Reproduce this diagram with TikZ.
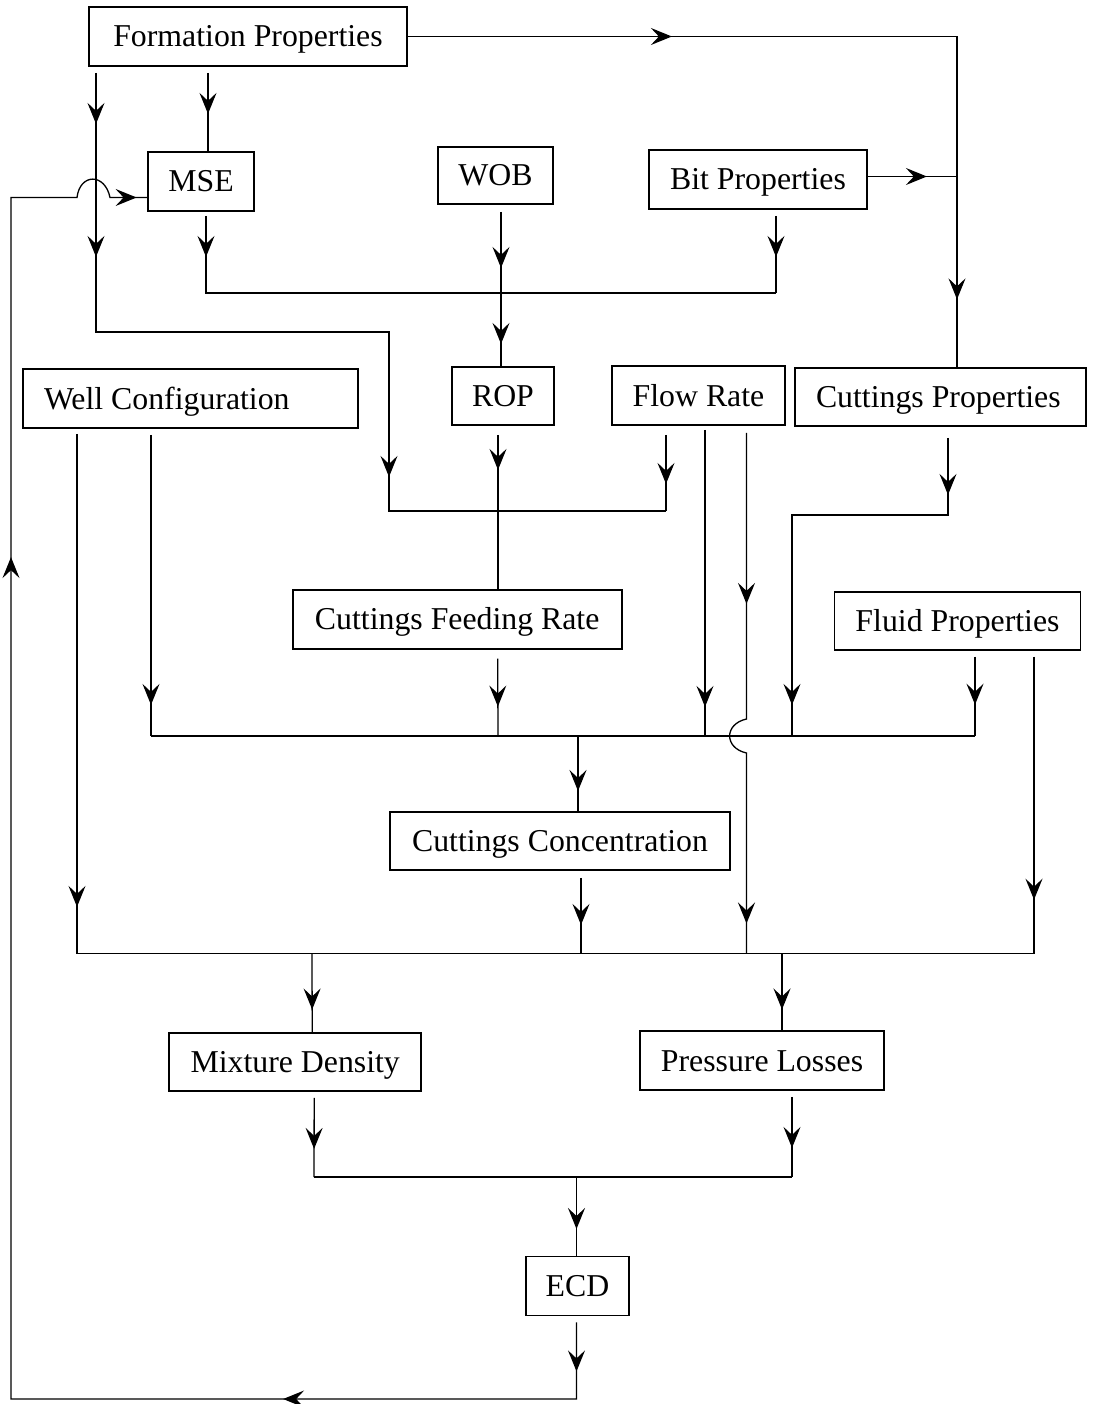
\documentclass[tikz,border=0pt]{standalone}
\usepackage{fontspec}
\setmainfont{Liberation Serif}
\usetikzlibrary{arrows.meta,decorations.markings}
\tikzset{
  box/.style={draw, line width=1.8pt, inner sep=0pt, minimum height=59pt,
    font=\fontsize{31.8}{36}\selectfont, text height=21pt, text depth=0pt},
  conn/.style={line width=1.3pt},
  tiphead/.tip={Stealth[length=21pt,width=17pt,inset=8pt]},
  midtip/.style={postaction={decorate,decoration={markings,
    mark=at position #1 with {\arrow{tiphead}}}}},
}
\begin{document}
\begin{tikzpicture}[x=1pt,y=-1pt]
\useasboundingbox (0,0) rectangle (1102,1404);

% ---------- boxes ----------
\node[box, minimum width=318pt] (form)  at (248,36.5)   {Formation Properties};
\node[box, minimum width=106pt] (mse)   at (201,181.5)  {MSE};
\node[box, minimum width=115pt, minimum height=57pt] (wob) at (495.5,175.5) {WOB};
\node[box, minimum width=218pt] (bit)   at (758,179.5)  {Bit Properties};
\node[box, inner xsep=21pt] (well)      at (190.5,398.5) {\makebox[293pt][l]{Well Configuration}};
\node[box, minimum width=102pt, minimum height=58pt] (rop) at (503,396) {ROP};
\node[box, minimum width=173pt] (flow)  at (698.5,395.5) {Flow Rate};
\node[box, inner xsep=21pt, minimum height=58pt] (cprop) at (940.5,397) {\makebox[249pt][l]{Cuttings Properties}};
\node[box, minimum width=329pt, minimum height=58.7pt] (cfr) at (457.2,619.3) {Cuttings Feeding Rate};
\node[box, minimum width=246pt, minimum height=58pt] (fluid) at (957.5,620.8) {Fluid Properties};
\node[box, minimum width=340pt, minimum height=58pt] (conc) at (560,841) {Cuttings Concentration};
\node[box, minimum width=252pt, minimum height=58pt] (mix) at (295.2,1062) {Mixture Density};
\node[box, minimum width=244.6pt] (press) at (762,1060.5) {Pressure Losses};
\node[box, minimum width=103.4pt] (ecd) at (577.5,1286) {ECD};

% ---------- junction points ----------
\coordinate (jRopIn)  at (666,511);
\coordinate (jMseBit) at (776,293);
\coordinate (jBitR)   at (957,176.5);
\coordinate (busAl)   at (151,736);
\coordinate (busAr)   at (975,736);
\coordinate (busBl)   at (77,953.5);
\coordinate (busBr)   at (1034,953.5);
\coordinate (busCl)   at (314,1177);
\coordinate (busCr)   at (792,1177);

% ---------- top part ----------
\draw[conn, midtip=41pt] ([xshift=-40pt,yshift=-6pt]form.south) -- ([xshift=7pt]mse.north);
\draw[conn, midtip=51pt, midtip=184pt, midtip=697pt]
  ([xshift=-152pt,yshift=-6pt]form.south) -- (96,332) -- (389,332) -- (389,511) -- (jRopIn);
\draw[conn, midtip=264pt, midtip=812pt] (form.east) -- (957,36.5) -- ([xshift=16.5pt]cprop.north);
\draw[conn, midtip=59pt] ([yshift=3pt]bit.east) -- (jBitR);

\draw[conn, midtip=41pt] ([xshift=5pt,yshift=-4pt]mse.south) -- (206,293) -- (jMseBit);
\draw[conn, midtip=41pt] ([xshift=18pt,yshift=-6pt]bit.south) -- (jMseBit);
\draw[conn, midtip=56pt, midtip=132pt] ([xshift=5.5pt,yshift=-7pt]wob.south) -- ([xshift=-2pt]rop.north);

% ---------- middle part ----------
\draw[conn, midtip=49pt] ([xshift=-32.5pt,yshift=-9pt]flow.south) -- (jRopIn);
\draw[conn, midtip=35pt] ([xshift=-5pt,yshift=-9pt]rop.south) -- ([xshift=40.8pt]cfr.north);

\draw[conn, midtip=57pt, midtip=423pt]
  ([xshift=7.5pt,yshift=-11pt]cprop.south) -- (948,515) -- (792,515) -- (792,736);

\draw[conn, midtip=473pt] ([xshift=-113.5pt,yshift=-5pt]well.south) -- (busBl);
\draw[conn, midtip=270pt] ([xshift=-39.5pt,yshift=-6pt]well.south) -- (busAl);

\draw[conn, midtip=277pt] ([xshift=6.5pt,yshift=-4pt]flow.south) -- (705,736);
\draw[conn, midtip=171pt, midtip=-30pt]
  ([xshift=48pt,yshift=-7pt]flow.south) -- (746.5,719)
  .. controls (724,724) and (724,748) .. (746.5,753) -- (746.5,953.5);

\draw[conn, midtip=48pt] ([xshift=40.5pt,yshift=-9pt]cfr.south) -- (498,736);
\draw[conn, midtip=48pt] ([xshift=17.5pt,yshift=-6pt]fluid.south) -- (busAr);
\draw[conn, midtip=243pt] ([xshift=76.5pt,yshift=-6pt]fluid.south) -- (busBr);

\draw[conn] (busAl) -- (busAr);
\draw[conn, midtip=55pt] (578,736) -- ([xshift=18pt]conc.north);

% ---------- lower part ----------
\draw[conn, midtip=47pt] ([xshift=21pt,yshift=-7pt]conc.south) -- (581,953.5);
\draw[conn] (busBl) -- (busBr);
\draw[conn, midtip=56pt] (312,953.5) -- ([xshift=17pt]mix.north);
\draw[conn, midtip=56pt] (782,953.5) -- ([xshift=20pt]press.north);

\draw[conn, midtip=51pt] ([xshift=19pt,yshift=-6pt]mix.south) -- (busCl);
\draw[conn, midtip=51pt] ([xshift=30pt,yshift=-6pt]press.south) -- (busCr);
\draw[conn] (busCl) -- (busCr);
\draw[conn, midtip=52pt] (576.5,1177) -- ([xshift=-1pt]ecd.north);

% ---------- feedback loop ----------
\draw[conn, midtip=49pt, midtip=370pt, midtip=1484pt, midtip=-10.5pt]
  ([xshift=-1pt,yshift=-6pt]ecd.south) -- (576.5,1399) -- (11,1399) -- (11,197.5)
  -- (77,197.5) .. controls (80,173) and (105,173) .. (110,197.5)
  -- ([yshift=-16pt]mse.west);
\end{tikzpicture}
\end{document}
